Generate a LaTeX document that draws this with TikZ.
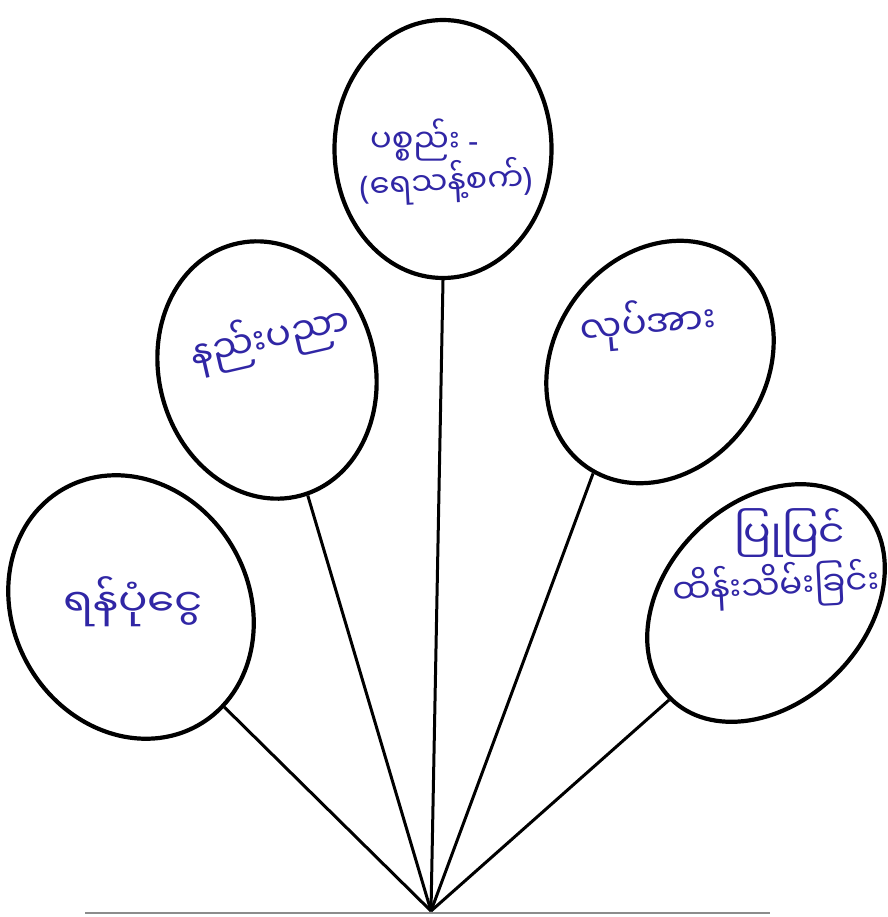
\documentclass[tikz,border=0pt]{standalone}
\usepackage{fontspec}
\newfontfamily\mmfont[Script=Myanmar]{Noto Sans Myanmar UI}
\newfontfamily\latfont{Noto Sans}
\usetikzlibrary{shapes.geometric}
\definecolor{inkblue}{RGB}{48,38,165}
\begin{document}
\begin{tikzpicture}[x=1pt,y=-1pt,
  bubble/.style={ellipse, draw=black, line width=4.2pt, inner sep=0pt, fill=white},
  stick/.style={line width=3pt, draw=black},
  hand/.style={text=inkblue, font=\mmfont\fontsize{34}{40}\selectfont, inner sep=0pt},
  baseline/.style={line width=1.2pt, draw=black!45}]
\useasboundingbox (0,0) rectangle (887,917);
\fill[white] (0,0) rectangle (887,917);
% bubbles
\node[bubble, minimum width=217pt, minimum height=258pt] (tp) at (443,149) {};
\node[bubble, minimum width=216pt, minimum height=260pt, rotate=15] (lm) at (267,370) {};
\node[bubble, minimum width=212pt, minimum height=256pt, rotate=-35] (rm) at (660,362) {};
\node[bubble, minimum width=236pt, minimum height=272pt, rotate=30] (lb) at (131,607) {};
\node[bubble, minimum width=200pt, minimum height=270pt, rotate=-45] (rb) at (766,603) {};
% apex and base
\coordinate (apex) at (431,911);
\coordinate (baseL) at (85,913);
\coordinate (baseR) at (770,913);
\draw[baseline] (baseL) -- (baseR);
% connectors
\draw[stick] (tp.south) -- (apex);
\draw[stick] (lm.273) -- (apex);
\draw[stick] (rm.274) -- (apex);
\draw[stick] (lb.283) -- (apex);
\draw[stick] (rb.270) -- (apex);
% labels
\node[hand, anchor=west, font=\mmfont\fontsize{32}{38}\selectfont] (t1a) at (370,140) {ပစ္စည်း {\latfont -}};
\node[hand, anchor=west, rotate=3, font=\mmfont\fontsize{32}{38}\selectfont] (t1b) at (360,187) {{\latfont (}ရေသန့်စက်{\latfont )}};
\node[hand, rotate=13, font=\mmfont\fontsize{38}{44}\selectfont] (t2) at (270,338) {နည်းပညာ};
\node[hand, rotate=5, font=\mmfont\fontsize{37}{44}\selectfont] (t3) at (648,324) {လုပ်အား};
\node[hand, xscale=1.15, font=\mmfont\fontsize{38}{44}\selectfont] (t4) at (133,602) {ရန်ပုံငွေ};
\node[hand, xscale=1.1, font=\mmfont\fontsize{37}{44}\selectfont] (t5a) at (790,533) {ပြုပြင်};
\node[hand, rotate=3] (t5b) at (776,586) {ထိန်းသိမ်းခြင်း};
\end{tikzpicture}
\end{document}
